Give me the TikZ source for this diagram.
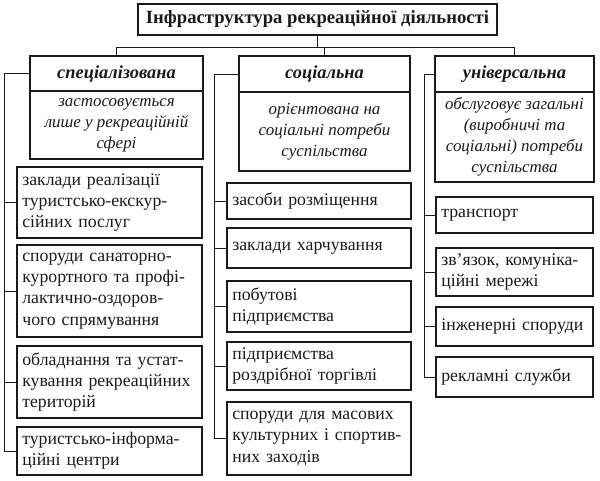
\documentclass[tikz,border=0pt]{standalone}
\usepackage{fontspec}
\setmainfont{Liberation Serif}
\definecolor{chartink}{HTML}{1A1A1A}

\begin{document}
\begin{tikzpicture}[
  x=0.75pt,
  y=-0.75pt,
  every node/.style={font=\fontsize{13.3}{16}\selectfont, text=chartink},
  titlebox/.style={draw=chartink, line width=1.4pt, minimum width=269pt, minimum height=23pt,
    font=\fontsize{14}{16}\selectfont\bfseries},
  headbox/.style={draw=chartink, line width=1.3pt, minimum height=26.5pt,
    font=\fontsize{13.8}{16}\selectfont\bfseries\itshape},
  notebox/.style={draw=chartink, line width=1.3pt, align=center, inner sep=2pt,
    font=\fontsize{12.7}{15.75}\selectfont\itshape},
  itembox/.style={draw=chartink, line width=1.3pt, align=left, inner xsep=4pt, inner ysep=2pt},
  link/.style={draw=chartink, line width=0.7pt}
]
  \useasboundingbox (0,0) rectangle (600,480);

  \node[titlebox] (title) at (317.5,19.5) {Інфраструктура рекреаційної діяльності};

  \node[headbox, minimum width=129.75pt] (spec) at (116.5,73.5) {спеціалізована};
  \node[headbox, minimum width=128.25pt] (social) at (324.5,74) {соціальна};
  \node[headbox, minimum width=119.25pt] (univ) at (514.5,74) {універсальна};

  \node[notebox, minimum width=129.75pt, minimum height=51pt] (specnote) at (116.5,125)
    {застосовується\\лише у рекреаційній\\сфері};
  \node[notebox, minimum width=128.25pt, minimum height=59.25pt] (socialnote) at (324.5,131.5)
    {орієнтована на\\соціальні потреби\\суспільства};
  \node[notebox, minimum width=119.25pt, minimum height=67.5pt] (univnote) at (514.5,137)
    {обслуговує загальні\\(виробничі та\\соціальні) потреби\\суспільства};

  \node[itembox, text width=130.75pt, minimum height=53.25pt] (spec1) at (109.5,202.5)
    {заклади реалізації\\туристсько-екскур-\\сійних послуг};
  \node[itembox, text width=130.75pt, minimum height=69pt] (spec2) at (109.5,291)
    {споруди санаторно-\\курортного та профі-\\лактично-оздоров-\\чого спрямування};
  \node[itembox, text width=130.75pt, minimum height=54pt] (spec3) at (109.5,382)
    {обладнання та устат-\\кування рекреаційних\\територій};
  \node[itembox, text width=130.75pt, minimum height=36pt] (spec4) at (109.5,451)
    {туристсько-інформа-\\ційні центри};

  \node[itembox, text width=130pt, minimum height=27pt] (soc1) at (319,201) {засоби розміщення};
  \node[itembox, text width=130pt, minimum height=30pt] (soc2) at (319,248) {заклади харчування};
  \node[itembox, text width=130pt, minimum height=38.25pt] (soc3) at (319,306.5)
    {побутові\\підприємства};
  \node[itembox, text width=130pt, minimum height=36pt] (soc4) at (319,366)
    {підприємства\\роздрібної торгівлі};
  \node[itembox, text width=130pt, minimum height=54.75pt] (soc5) at (319,438.5)
    {споруди для масових\\культурних і спортив-\\них заходів};

  \node[itembox, text width=109.75pt, minimum height=27pt] (univ1) at (514.5,215) {транспорт};
  \node[itembox, text width=109.75pt, minimum height=36pt] (univ2) at (514.5,272)
    {зв’язок, комуніка-\\ційні мережі};
  \node[itembox, text width=109.75pt, minimum height=29.25pt] (univ3) at (514.5,326.5)
    {інженерні споруди};
  \node[itembox, text width=109.75pt, minimum height=30pt] (univ4) at (514.5,377)
    {рекламні служби};

  \coordinate (bus) at (317.5,47);
  \coordinate (spectrunk) at (4,0);
  \coordinate (soctrunk) at (214,0);
  \coordinate (univtrunk) at (424,0);

  \draw[link] (title.south) -- (bus);
  \draw[link] (spec.north) -- (spec.north |- bus) -- (univ.north |- bus) -- (univ.north);
  \draw[link] (social.north) -- (social.north |- bus);

  \draw[link] (spec.west) -- (spec.west -| spectrunk) |- (spec4.west);
  \foreach \n in {1,2,3}
    \draw[link] (spec\n.west) -- (spec\n.west -| spectrunk);

  \draw[link] (social.west) -- (social.west -| soctrunk) |- (soc5.west);
  \foreach \n in {1,2,3,4}
    \draw[link] (soc\n.west) -- (soc\n.west -| soctrunk);

  \draw[link] (univ.west) -- (univ.west -| univtrunk) |- (univ4.west);
  \foreach \n in {1,2,3}
    \draw[link] (univ\n.west) -- (univ\n.west -| univtrunk);
\end{tikzpicture}
\end{document}
